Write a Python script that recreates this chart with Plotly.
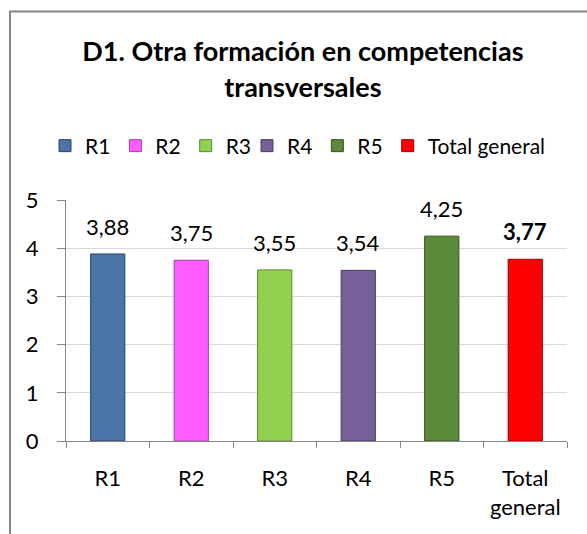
import plotly.graph_objects as go

categories = ["R1", "R2", "R3", "R4", "R5", "Total general"]
tick_labels = ["R1", "R2", "R3", "R4", "R5", "Total<br>general"]
values = [3.88, 3.75, 3.55, 3.54, 4.25, 3.77]
colors = ["#4a74a6", "#ff5cff", "#92d050", "#77609a", "#5a8a3a", "#ff0000"]
outline = ["#2a4566", "#a040a0", "#5a8a2a", "#4a3a66", "#34541f", "#a00000"]

FONT = "Lato, Calibri, sans-serif"
FS = 22

fig = go.Figure()
annotations = []
for i, c in enumerate(categories):
    label = f"{values[i]:.2f}".replace(".", ",")
    if c == "Total general":
        label = f"<b>{label}</b>"
    fig.add_trace(go.Bar(
        x=[tick_labels[i]], y=[values[i]], name=c,
        marker=dict(color=colors[i], line=dict(color=outline[i], width=1)),
        width=0.41,
        legend="legend" if i < 3 else "legend2",
    ))
    annotations.append(dict(
        x=tick_labels[i], y=values[i], xref="x", yref="y",
        text=label, showarrow=False, yanchor="bottom", yshift=12,
        font=dict(size=FS, color="#000000", family=FONT),
    ))

legend_common = dict(orientation="h", xref="container", yref="container",
                     xanchor="left", y=1 - 146 / 534, yanchor="middle",
                     font=dict(size=21, family=FONT), itemwidth=30,
                     traceorder="normal", tracegroupgap=0,
                     bgcolor="rgba(0,0,0,0)")

fig.update_layout(
    width=587, height=534,
    barmode="overlay",
    paper_bgcolor="white", plot_bgcolor="white",
    margin=dict(l=66, r=20, t=200, b=93),
    font=dict(family=FONT, color="#000000"),
    title=dict(text="<b>D1. Otra formación en competencias<br>transversales</b>",
               x=0.516, xanchor="center", y=0.885, yanchor="middle",
               font=dict(size=27, family=FONT)),
    showlegend=True,
    legend=dict(legend_common, x=45 / 587),
    legend2=dict(legend_common, x=247 / 587),
    annotations=annotations,
    xaxis=dict(showline=True, linecolor="#868686", linewidth=1,
               ticks="outside", tickson="boundaries", ticklen=6, tickcolor="#868686",
               tickfont=dict(size=FS, family=FONT), showgrid=False,
               ticklabelstandoff=18),
    yaxis=dict(range=[0, 5], dtick=1, showline=True, linecolor="#868686", linewidth=1,
               ticks="outside", ticklen=8, tickcolor="#868686",
               gridcolor="#d9d9d9", gridwidth=1,
               tickfont=dict(size=FS, family=FONT), zeroline=False,
               ticklabelstandoff=14),
    shapes=[dict(type="rect", xref="paper", yref="paper",
                 x0=-0.1118, x1=1.2, y0=-0.6, y1=1.7817,
                 line=dict(color="#868686", width=2), fillcolor="rgba(0,0,0,0)",
                 layer="below")],
)

fig.write_html("out.html", config={"displayModeBar": False},
               post_script="document.body.style.margin='0';")
